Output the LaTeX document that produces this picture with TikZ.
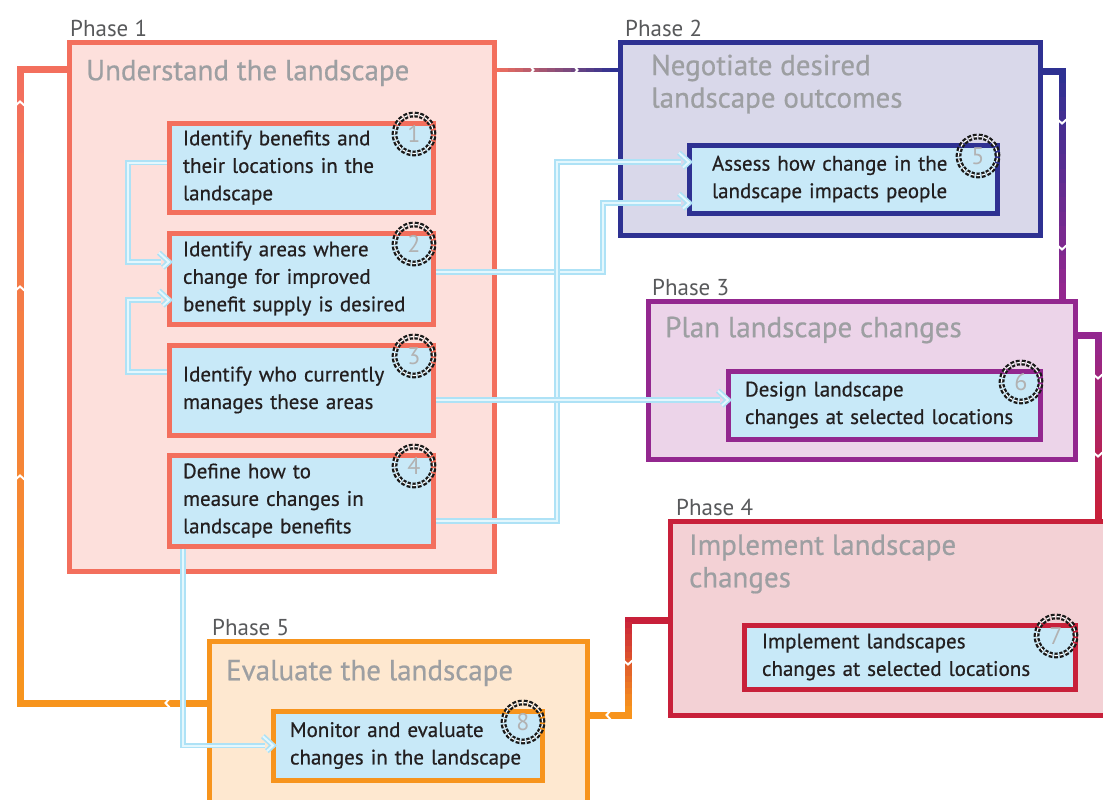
\documentclass[tikz,border=0pt]{standalone}
\usepackage{fontspec}
\setmainfont{PT Sans}
\newfontfamily\heavysans[FakeBold=0.6]{PT Sans}
\usetikzlibrary{calc,arrows.meta,positioning,backgrounds,decorations.markings}

\definecolor{ponecol}{HTML}{F36F5D}
\definecolor{ponefill}{HTML}{FDE0DC}
\definecolor{ptwocol}{HTML}{2E3192}
\definecolor{ptwofill}{HTML}{D9D8EA}
\definecolor{pthreecol}{HTML}{93278F}
\definecolor{pthreefill}{HTML}{ECD4E9}
\definecolor{pfourcol}{HTML}{C8203A}
\definecolor{pfourfill}{HTML}{F3D1D5}
\definecolor{pfivecol}{HTML}{F7941D}
\definecolor{pfivefill}{HTML}{FEE8D0}
\definecolor{taskfill}{HTML}{C8E9F8}
\definecolor{linkblue}{HTML}{AEE2F6}
\definecolor{linkpale}{HTML}{E4F7FD}
\definecolor{textdark}{HTML}{231F20}
\definecolor{titlegray}{HTML}{9D9FA2}
\definecolor{labelgray}{HTML}{58595B}

%% one leg of a phase connector, coloured from #4 to #5
\newcommand{\gradleg}[5][7pt]{%
  \foreach \k in {0,...,15}{%
    \pgfmathtruncatemacro{\pc}{100-\k*100/15}%
    \draw[line width=#1, line cap=rect, draw=#4!\pc!#5]
      ($(#2)!\k/16!(#3)$) -- ($(#2)!\k/16+0.0625!(#3)$);
  }%
}

\begin{document}
\begin{tikzpicture}[x=1pt,y=-1pt,
  phase/.style={draw, line width=5pt, outer sep=0pt, anchor=north west, inner sep=0pt},
  task/.style={draw, line width=5pt, fill=taskfill, outer sep=0pt, anchor=north west,
    align=left, inner xsep=14pt, inner ysep=0pt, text=textdark,
    font=\heavysans\fontsize{21}{27.5}\selectfont},
  phlabel/.style={anchor=base west, inner sep=0pt, text=labelgray, font=\fontsize{23}{23}\selectfont},
  phtitle/.style={anchor=west, inner sep=0pt, align=left, text=titlegray,
    font=\heavysans\fontsize{29}{32.5}\selectfont},
  badge/.style={circle, minimum size=39pt, inner sep=0pt, draw=black!90, line width=2.3pt,
    double=white, double distance=1.2pt, dash pattern=on 3.5pt off 1.8pt,
    text=black!30, font=\fontsize{24}{24}\selectfont},
  flow/.style={line width=7pt, line cap=rect},
  dbl/.style={draw=linkblue, line width=1.7pt, double=linkpale, double distance=2pt},
  link/.style={dbl, shorten >=8pt, shorten <=2.5pt,
    postaction={decorate, decoration={markings, mark=at position 1 with
      {\draw[dbl, line join=miter] (-12,-11) -- (0,0) -- (-12,11);}}}},
  chev/.pic={\draw[white, line width=2pt] (-3,-5) -- (1.5,0) -- (-3,5);}
]
  \useasboundingbox (0,0) rectangle (1103,800);
  \clip (0,0) rectangle (1103,800);

  %% Phase boxes
  \node[phase, draw=ponecol, fill=ponefill, minimum width=425pt, minimum height=528pt] (P1) at (69,43) {};
  \node[phase, draw=ptwocol, fill=ptwofill, minimum width=420pt, minimum height=192pt] (P2) at (620,43) {};
  \node[phase, draw=pthreecol, fill=pthreefill, minimum width=427pt, minimum height=158pt] (P3) at (648,301) {};
  \node[phase, draw=pfourcol, fill=pfourfill, minimum width=440pt, minimum height=194pt] (P4) at (670,521) {};
  \node[phase, draw=pfivecol, fill=pfivefill, minimum width=378pt, minimum height=164pt] (P5) at (209,641) {};

  \node[phlabel] (L1) at ($(P1.north west)+(1,-6)$) {Phase 1};
  \node[phlabel] (L2) at ($(P2.north west)+(5,-6)$) {Phase 2};
  \node[phlabel] (L3) at ($(P3.north west)+(4,-6)$) {Phase 3};
  \node[phlabel] (L4) at ($(P4.north west)+(6,-6)$) {Phase 4};
  \node[phlabel] (L5) at ($(P5.north west)+(3,-6)$) {Phase 5};

  \node[phtitle] (T1) at ($(P1.north west)+(17,30)$) {Understand the landscape};
  \node[phtitle] (T2) at ($(P2.north west)+(31,41)$) {Negotiate desired\\landscape outcomes};
  \node[phtitle] (T3) at ($(P3.north west)+(17,29)$) {Plan landscape changes};
  \node[phtitle] (T4) at ($(P4.north west)+(19,43)$) {Implement landscape\\changes};
  \node[phtitle] (T5) at ($(P5.north west)+(17,32)$) {Evaluate the landscape};

  %% Steps
  \node[task, draw=ponecol, minimum width=264pt, minimum height=89pt, text width=236pt] (b1) at (169,123)
    {Identify benefits and\\their locations in the\\landscape};
  \node[task, draw=ponecol, minimum width=264pt, minimum height=91pt, text width=236pt] (b2) at (169,233)
    {Identify areas where\\change for improved\\benefit supply is desired};
  \node[task, draw=ponecol, minimum width=264pt, minimum height=90pt, text width=236pt] (b3) at (169,345)
    {Identify who currently\\manages these areas};
  \node[task, draw=ponecol, minimum width=264pt, minimum height=91pt, text width=236pt] (b4) at (169,455)
    {Define how to\\measure changes in\\landscape benefits};
  \node[task, draw=ptwocol, minimum width=308pt, minimum height=68pt, inner xsep=23pt, text width=262pt] (b5) at (689,145)
    {Assess how change in the\\landscape impacts people};
  \node[task, draw=pthreecol, minimum width=312pt, minimum height=68pt, inner xsep=17pt, text width=278pt] (b6) at (728,371)
    {Design landscape\\changes at selected locations};
  \node[task, draw=pfourcol, minimum width=331pt, minimum height=64pt, inner xsep=18pt, text width=295pt] (b7) at (744,625)
    {Implement landscapes\\changes at selected locations};
  \node[task, draw=pfivecol, minimum width=269pt, minimum height=69pt, inner xsep=17pt, text width=235pt] (b8) at (273,711)
    {Monitor and evaluate\\changes in the landscape};

  %% Phase connectors (behind the boxes)
  \coordinate (k23) at (1062,72);
  \coordinate (k34) at (1098,335);
  \coordinate (k45a) at (628,620);
  \coordinate (k45b) at (628,715);
  \coordinate (k51a) at (20,703);
  \coordinate (k51b) at (20,70);
  \begin{pgfonlayer}{background}
    \gradleg[4.5pt]{$(P1.north east)+(0,27)$}{$(P2.north west)+(0,27)$}{ponecol}{ptwocol}
    \draw[flow, draw=ptwocol] ($(P2.north east)+(0,29)$) -- (k23);
    \gradleg{k23}{$(P3.north east)+(-13,0)$}{ptwocol}{pthreecol}
    \draw[flow, draw=pthreecol] ($(P3.north east)+(0,34)$) -- (k34);
    \gradleg{k34}{$(P4.north east)+(-12,0)$}{pthreecol}{pfourcol}
    \draw[flow, draw=pfourcol] ($(P4.north west)+(0,99)$) -- (k45a);
    \gradleg{k45a}{k45b}{pfourcol}{pfivecol}
    \draw[flow, draw=pfivecol] (k45b) -- ($(P5.north east)+(0,74)$);
    \draw[flow, draw=pfivecol] ($(P5.north west)+(0,62)$) -- (k51a);
    \gradleg{k51a}{k51b}{pfivecol}{ponecol}
    \draw[flow, draw=ponecol] (k51b) -- ($(P1.north west)+(0,27)$);
  \end{pgfonlayer}

  %% direction marks on the connectors
  \foreach \px/\py/\ang in {532/70/0, 576/70/0, 1062/122/-90, 1062/248/-90,
      1098/377/-90, 1098/455/-90, 628/663/-90, 608/715/180,
      167/703/180, 20/477/90, 20/288/90, 20/103/90}
    \pic[rotate=\ang] at (\px,\py) {chev};

  %% Links between steps
  \coordinate (k12) at (128,262);
  \coordinate (k32) at (128,300);
  \coordinate (k25) at (603,203);
  \coordinate (k45) at (557,162);
  \coordinate (k48) at (183,745.5);
  \draw[link] ($(b1.west)+(0,-5)$) -| (k12) -- ($(b2.west)+(0,-16.5)$);
  \draw[link] ($(b3.west)+(0,-18)$) -| (k32) -- ($(b2.west)+(0,21.5)$);
  \draw[link] ($(b2.east)+(0,-6.5)$) -| (k25) -- ($(b5.west)+(0,24)$);
  \draw[link] ($(b4.east)+(0,20.5)$) -| (k45) -- ($(b5.west)+(0,-17)$);
  \draw[link] ($(b3.east)+(0,10)$) -- ($(b6.west)+(0,-5)$);
  \draw[link] ($(b4.south west)+(14,0)$) -- (k48) -- (b8.west);

  %% Step numbers
  \foreach \n in {1,...,8}
    \node[badge] (c\n) at ($(b\n.north east)+(-19,11)$) {\n};
\end{tikzpicture}
\end{document}
